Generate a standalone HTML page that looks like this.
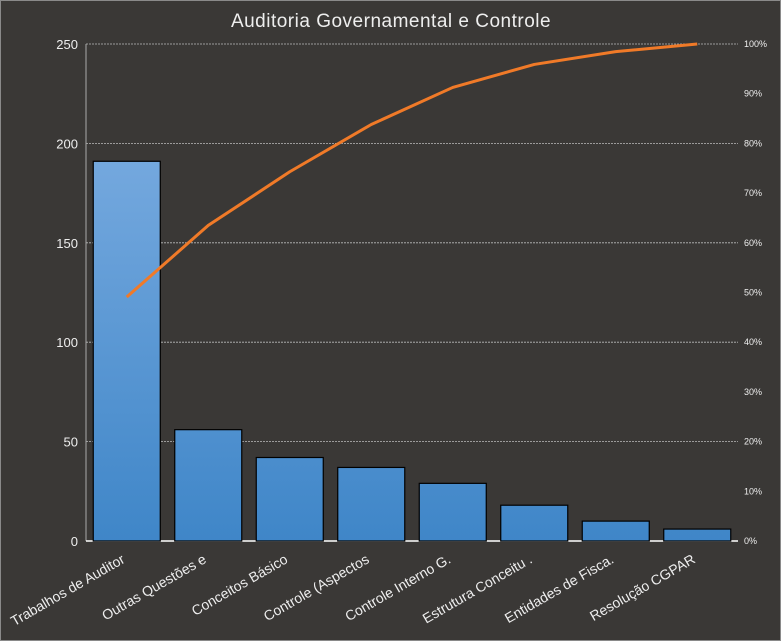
<!DOCTYPE html>
<html><head><meta charset="utf-8"><style>
html,body{margin:0;padding:0;background:#3a3836;}
svg{display:block;font-family:"Liberation Sans","DejaVu Sans",sans-serif;}
</style></head><body>
<svg id="chart" width="781" height="641">
<defs><linearGradient id="bg" gradientUnits="userSpaceOnUse" x1="0" y1="160" x2="0" y2="541"><stop offset="0" stop-color="#74a8de"/><stop offset="1" stop-color="#3f86c8"/></linearGradient></defs>
<rect x="0.5" y="0.5" width="780" height="640" fill="#3a3836" stroke="#8a8a8a"/>
<text x="391" y="27" fill="#eeeeee" font-size="19" text-anchor="middle" letter-spacing="0.5">Auditoria Governamental  e Controle</text>
<g id="grid"></g><g id="bars"></g><g id="line"></g><g id="labels"></g>
</svg>
<script>
const categories=["Trabalhos de Auditor","Outras Questões e","Conceitos Básico","Controle  (Aspectos","Controle  Interno G.","Estrutura Conceitu .","Entidades de Fisca.","Resolução CGPAR"];
const values=[191,56,42,37,29,18,10,6];
const leftTicks=[0,50,100,150,200,250];
const rightTicks=[0,10,20,30,40,50,60,70,80,90,100];
const NS="http://www.w3.org/2000/svg";
const L=86,R=738,T=44,B=541;
const yL=v=>B-(v/250)*(B-T);
const yR=p=>B-(p/100)*(B-T);
const cw=(R-L)/categories.length;
const xc=i=>L+cw*(i+0.5);
function mk(tag,attrs,parent){const e=document.createElementNS(NS,tag);for(const k in attrs)e.setAttribute(k,attrs[k]);parent.appendChild(e);return e;}
const g=document.getElementById('grid'),gb=document.getElementById('bars'),gl=document.getElementById('line'),lab=document.getElementById('labels');
leftTicks.forEach(t=>{
 if(t>0){const ln=mk('line',{x1:L,x2:R,y1:yL(t),y2:yL(t),stroke:'#bbbbbb','stroke-dasharray':'2,1','stroke-width':0.8},g);
 
 }
 const tx=mk('text',{x:78,y:yL(t)+5,fill:'#eeeeee','font-size':13,'text-anchor':'end'},g);tx.textContent=t;
 
 
});
rightTicks.forEach(t=>{
 const tx=mk('text',{x:744,y:yR(t)+3,fill:'#eeeeee','font-size':9},g);tx.textContent=t+'%';
 
 
});
const ax=mk('line',{x1:L,x2:L,y1:T,y2:B,stroke:'#aaaaaa'},g);


const total=values.reduce((a,b)=>a+b,0);
let cum=0;const pts=[];
values.forEach((v,i)=>{
 const bw=67;
 const r=mk('rect',{x:xc(i)-bw/2,y:yL(v),width:bw,height:B-yL(v),fill:'url(#bg)',stroke:'#000','stroke-width':1.2},gb);
 
 
 cum+=v;pts.push(xc(i)+','+yR(cum/total*100));
 const lx=xc(i)-1,ly=562;
 const t=mk('text',{x:lx,y:ly,fill:'#eeeeee','font-size':14,'text-anchor':'end',transform:'rotate(-30 '+lx+' '+ly+')'},lab);
 t.textContent=categories[i];
 
 
});
const xa=mk('line',{x1:L,x2:R,y1:B,y2:B,stroke:'#ffffff','stroke-width':1.5},g);


const pl=mk('polyline',{points:pts.join(' '),fill:'none',stroke:'#f07a28','stroke-width':3,'stroke-linejoin':'round'},gl);


</script>
</body></html>
